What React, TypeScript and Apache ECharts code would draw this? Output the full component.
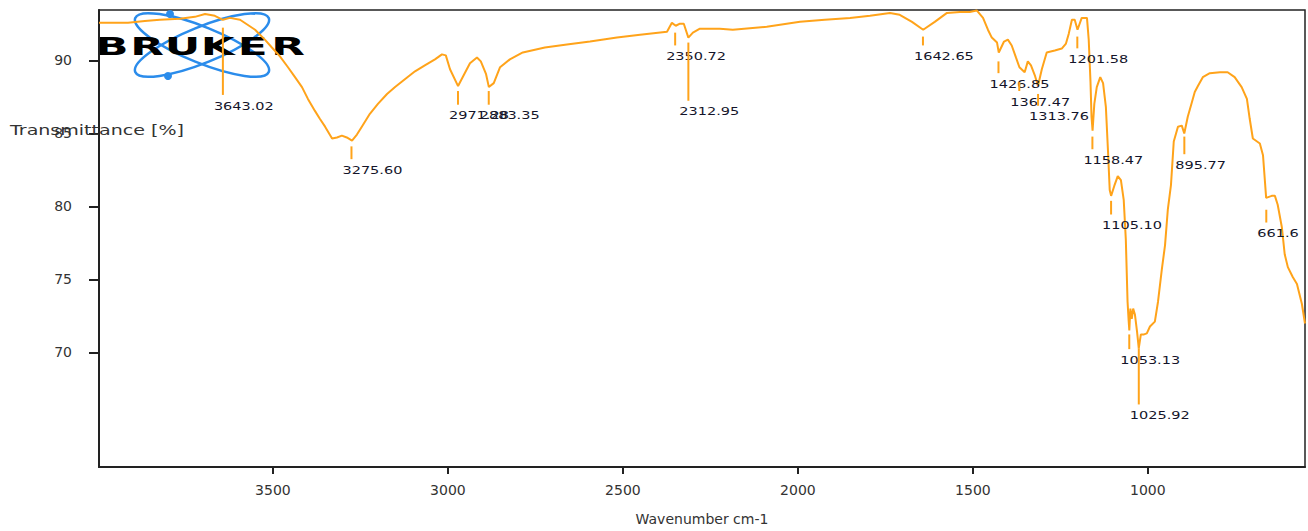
import React, { useEffect, useRef } from "react";
import * as echarts from "echarts";

// Spectrum (wavenumber cm-1, transmittance %)
const wavenumbers = [
  3997, 3914, 3866, 3823, 3766, 3723, 3694, 3666, 3643, 3623, 3594, 3551, 3523, 3503, 3480, 3457, 3437, 3417,
  3400, 3380, 3366, 3351, 3331, 3317, 3303, 3289, 3274, 3260, 3246, 3223, 3200, 3174, 3151, 3123, 3094, 3066,
  3037, 3017, 3006, 2994, 2971, 2949, 2937, 2917, 2906, 2891, 2883, 2869, 2851, 2823, 2786, 2723, 2660, 2594,
  2517, 2451, 2374, 2360, 2349, 2337, 2326, 2313, 2300, 2280, 2223, 2186, 2089, 1994, 1923, 1851, 1794, 1737,
  1709, 1674, 1642, 1609, 1574, 1537, 1509, 1489, 1471, 1457, 1446, 1431, 1426, 1411, 1400, 1389, 1377, 1367,
  1352, 1343, 1334, 1323, 1314, 1303, 1289, 1266, 1246, 1234, 1226, 1217, 1209, 1201, 1189, 1174, 1169, 1164,
  1161, 1158, 1153, 1146, 1136, 1128, 1120, 1114, 1109, 1105, 1096, 1086, 1077, 1069, 1063, 1058, 1055, 1053,
  1050, 1046, 1042, 1037, 1031, 1026, 1020, 1011, 1003, 994, 980, 971, 960, 951, 943, 934, 926, 914, 903, 896,
  886, 874, 866, 857, 843, 823, 794, 772, 752, 732, 717, 709, 700, 680, 671, 662, 646, 637, 629, 617, 609, 600,
  586, 574, 560, 551,
];
const transmittance = [
  92.57, 92.57, 92.7, 92.78, 92.85, 92.98, 93.18, 93.05, 92.78, 92.91, 92.78, 92.1, 91.42, 90.88, 90.27, 89.53,
  88.85, 88.17, 87.36, 86.54, 86.0, 85.46, 84.65, 84.72, 84.85, 84.72, 84.51, 84.92, 85.46, 86.34, 87.02, 87.7,
  88.17, 88.71, 89.25, 89.66, 90.07, 90.41, 90.34, 89.39, 88.24, 89.25, 89.8, 90.2, 89.93, 89.05, 88.17, 88.44,
  89.53, 90.07, 90.54, 90.88, 91.08, 91.29, 91.56, 91.76, 91.96, 92.57, 92.37, 92.51, 92.51, 91.56, 91.9, 92.17,
  92.17, 92.1, 92.3, 92.64, 92.78, 92.91, 93.05, 93.25, 93.12, 92.64, 92.1, 92.64, 93.25, 93.32, 93.32, 93.42,
  92.91, 92.1, 91.56, 91.22, 90.54, 91.29, 91.42, 91.02, 90.2, 89.53, 89.19, 89.93, 89.66, 88.98, 88.24, 89.39,
  90.54, 90.68, 90.81, 91.15, 91.83, 92.78, 92.78, 92.1, 92.91, 92.91, 91.42, 88.58, 86.14, 85.19, 87.02, 88.17,
  88.85, 88.44, 86.82, 83.83, 81.12, 80.72, 81.4, 82.07, 81.8, 80.45, 77.74, 73.47, 72.2, 71.5, 73.0, 72.3, 73.0,
  72.6, 71.44, 70.28, 71.23, 71.23, 71.3, 71.77, 72.11, 73.47, 75.7, 77.33, 79.77, 81.46, 84.44, 85.46, 85.53,
  84.99, 86.14, 87.15, 87.83, 88.24, 88.85, 89.12, 89.19, 89.19, 88.85, 88.17, 87.36, 86.0, 84.65, 84.31, 83.5,
  80.58, 80.72, 80.72, 80.11, 78.55, 76.72, 75.84, 75.16, 74.69, 73.33, 71.98,
];

// Peak picks
const peakWavenumbers = [
  3643.02, 3275.6, 2971.28, 2883.35, 2350.72, 2312.95, 1642.65, 1426.85, 1367.47, 1313.76, 1201.58, 1158.47,
  1105.1, 1053.13, 1025.92, 895.77, 661.6,
];
const peakLabels = [
  "3643.02", "3275.60", "2971.28", "2883.35", "2350.72", "2312.95", "1642.65", "1426.85", "1367.47", "1313.76",
  "1201.58", "1158.47", "1105.10", "1053.13", "1025.92", "895.77", "661.6",
];
const peakTickTop = [
  92.24, 84.11, 87.9, 87.9, 91.9, 91.22, 91.63, 89.93, 88.51, 87.7, 91.63, 84.78, 80.38, 71.23, 70.28, 84.78, 79.77,
];
const peakLabelLevel = [
  86.88, 82.48, 86.21, 86.21, 90.27, 86.48, 90.27, 88.37, 87.15, 86.14, 90.07, 83.16, 78.69, 69.47, 65.68, 82.82,
  78.14,
];

const xTicks = [3500, 3000, 2500, 2000, 1500, 1000];
const yTicks = [70, 75, 80, 85, 90];
const logoLetters = ["B", "R", "U", "K", "E", "R"];

const ORANGE = "#FFA31A";
const BLUE = "#2B8CEB";
const AXIS = "#222";
const LABEL = "#333";
const FONT = '"DejaVu Sans", sans-serif';

export default function App() {
  const ref = useRef<HTMLDivElement>(null);

  useEffect(() => {
    if (!ref.current) return;
    const chart = echarts.init(ref.current, null, { renderer: "svg" });

    const renderPeak = (params: any, api: any) => {
      const wn = api.value(0);
      const top = api.coord([wn, api.value(1)]);
      const lab = api.coord([wn, api.value(2)]);
      return {
        type: "group",
        children: [
          {
            type: "line",
            shape: { x1: top[0], y1: top[1], x2: top[0], y2: lab[1] - 11 },
            style: { stroke: ORANGE, lineWidth: 2 },
          },
          {
            type: "text",
            x: top[0] - 9,
            y: lab[1],
            scaleX: 1.45,
            style: {
              text: peakLabels[params.dataIndex],
              fill: "#14142a",
              font: `10px ${FONT}`,
              textAlign: "left",
              textVerticalAlign: "middle",
            },
          },
        ],
      };
    };

    const logoChildren: any[] = [
      {
        type: "ellipse",
        x: 202,
        y: 45,
        rotation: (22 * Math.PI) / 180,
        shape: { cx: 0, cy: 0, rx: 72, ry: 18 },
        style: { fill: "none", stroke: BLUE, lineWidth: 2.5 },
      },
      {
        type: "ellipse",
        x: 202,
        y: 45,
        rotation: (-22 * Math.PI) / 180,
        shape: { cx: 0, cy: 0, rx: 72, ry: 18 },
        style: { fill: "none", stroke: BLUE, lineWidth: 2.5 },
      },
      { type: "circle", shape: { cx: 170, cy: 14, r: 4 }, style: { fill: BLUE } },
      { type: "circle", shape: { cx: 168, cy: 76, r: 4 }, style: { fill: BLUE } },
    ];
    logoLetters.forEach((ch, i) => {
      logoChildren.push({
        type: "text",
        x: 112 + i * 35.2,
        y: 46,
        scaleX: 1.75,
        style: {
          text: ch,
          fill: "#000",
          font: `900 25px ${FONT}`,
          textAlign: "center",
          textVerticalAlign: "middle",
        },
      });
    });

    chart.setOption({
      animation: false,
      backgroundColor: "#fff",
      grid: {
        left: 99,
        top: 10,
        right: 3,
        bottom: 59,
        show: true,
        borderColor: AXIS,
        borderWidth: 1.5,
        backgroundColor: "transparent",
      },
      xAxis: {
        type: "value",
        inverse: true,
        min: 551,
        max: 3997,
        name: "Wavenumber cm-1",
        nameLocation: "middle",
        nameGap: 45,
        nameTextStyle: { fontSize: 14, color: LABEL, fontFamily: FONT },
        axisLine: { show: true, onZero: false, lineStyle: { color: AXIS, width: 2 } },
        axisTick: { show: true, length: 7, customValues: xTicks, lineStyle: { color: AXIS, width: 2 } },
        axisLabel: {
          customValues: xTicks,
          margin: 16,
          fontSize: 14,
          color: LABEL,
          fontFamily: FONT,
          formatter: (v: number) => String(v),
        },
        splitLine: { show: false },
      },
      yAxis: {
        type: "value",
        min: 62.15,
        max: 93.45,
        axisLine: { show: true, onZero: false, lineStyle: { color: AXIS, width: 2 } },
        axisTick: { show: true, length: 10, customValues: yTicks, lineStyle: { color: AXIS, width: 2 } },
        axisLabel: {
          customValues: yTicks,
          margin: 27,
          fontSize: 14,
          color: LABEL,
          fontFamily: FONT,
          formatter: (v: number) => String(v),
        },
        splitLine: { show: false },
      },
      series: [
        {
          type: "line",
          data: wavenumbers.map((w, i) => [w, transmittance[i]]),
          showSymbol: false,
          symbol: "none",
          lineStyle: { color: ORANGE, width: 2 },
          itemStyle: { color: ORANGE },
          z: 3,
        },
        {
          type: "custom",
          renderItem: renderPeak,
          data: peakWavenumbers.map((w, i) => [w, peakTickTop[i], peakLabelLevel[i]]),
          encode: { x: 0, y: 1 },
          clip: false,
          silent: true,
          z: 4,
        },
      ],
      graphic: [
        {
          type: "text",
          x: 10,
          y: 130,
          scaleX: 1.36,
          z: 50,
          style: {
            text: "Transmittance [%]",
            fill: LABEL,
            font: `14px ${FONT}`,
            textAlign: "left",
            textVerticalAlign: "middle",
          },
        },
        { type: "group", z: 100, children: logoChildren },
      ],
    });

    return () => chart.dispose();
  }, []);

  return (
    <div
      ref={ref}
      style={{ position: "fixed", left: 0, top: 0, width: 1308, height: 531, background: "#fff" }}
    />
  );
}
